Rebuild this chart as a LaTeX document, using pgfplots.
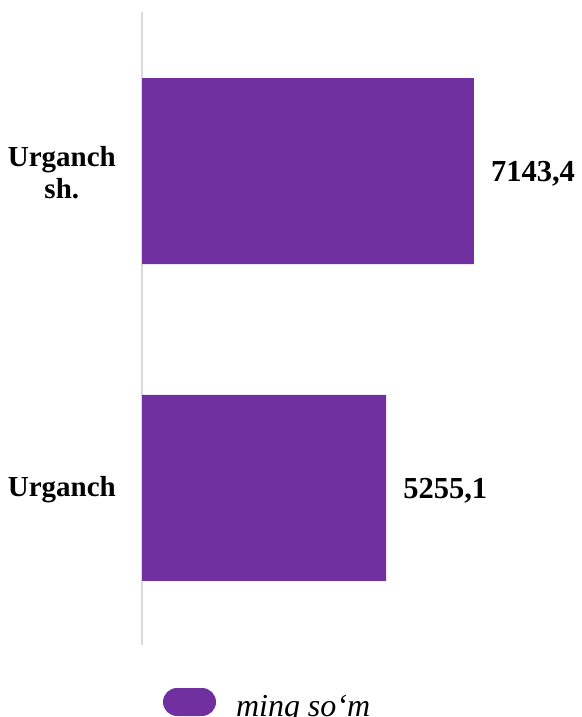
\documentclass[border=0pt]{standalone}
\usepackage{pgfplots}
\pgfplotsset{compat=1.18}
\usepackage{fontspec}
\setmainfont{Liberation Serif}
\definecolor{barpurple}{HTML}{7030A0}
\definecolor{axisgray}{HTML}{D9D9D9}
\begin{document}
\begin{tikzpicture}[x=1pt,y=1pt]
\useasboundingbox (0,0) rectangle (581,717);
\begin{axis}[
  at={(142pt,72pt)}, anchor=south west,
  scale only axis, width=418.14pt, height=633pt,
  xmin=0, xmax=9000, ymin=-0.4964, ymax=1.502,
  xbar, bar width=186pt,
  axis x line=none,
  axis y line*=left,
  y axis line style={-, draw=axisgray, line width=1.5pt},
  ytick={0,1}, yticklabels={Urganch,{Urganch\\sh.}},
  yticklabel style={font=\fontsize{29}{32}\selectfont\bfseries, align=center, inner sep=0pt, xshift=-26pt, yshift=-2pt},
  major tick length=0pt, ytick style={draw=none}, xtick=\empty,
  nodes near coords, point meta=explicit symbolic,
  nodes near coords style={font=\fontsize{30.5}{33}\selectfont\bfseries, anchor=base west, inner sep=0pt, xshift=17pt, yshift=-10.7pt, black},
  legend style={at={(axis description cs:0,0)}, anchor=north west, xshift=21pt, yshift=-43pt,
    draw=none, fill=none, inner sep=0pt, outer sep=0pt,
    font=\fontsize{32}{34}\selectfont\itshape,
    nodes={inner sep=0pt},
    column sep=20pt},
  legend image code/.code={\fill[barpurple, rounded corners=14pt] (0pt,-4.3pt) rectangle (53pt,23.7pt);},
]
\addplot[fill=barpurple, draw=none] coordinates {(5255.1,0) [5255,1] (7143.4,1) [7143,4]};
\addlegendentry{\raisebox{11pt}{ming so‘m}}
\end{axis}
\end{tikzpicture}
\end{document}
